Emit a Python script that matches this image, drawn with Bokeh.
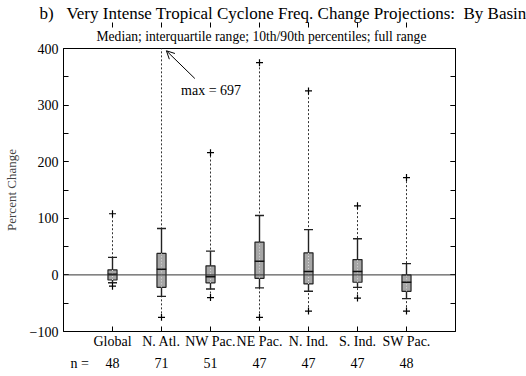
from bokeh.plotting import figure
from bokeh.models import (ColumnDataSource, FixedTicker, LinearAxis, Span, Label,
                          Arrow, OpenHead, Range1d, CustomJSTickFormatter, Title)
from bokeh.embed import file_html
from bokeh.resources import INLINE

# ---- data (percent change) ----
basins = ["Global", "N. Atl.", "NW Pac.", "NE Pac.", "N. Ind.", "S. Ind.", "SW Pac."]
n_models = [48, 71, 51, 47, 47, 47, 48]
vmin = [-20, -75, -40, -75, -64, -41, -64]
p10 = [-14, -38, -25, -23, -29, -22, -42]
q25 = [-9, -22, -14, -6, -16, -13, -29]
median = [1, 10, -3, 24, 6, 6, -13]
q75 = [9, 38, 16, 58, 39, 27, 0]
p90 = [31, 82, 42, 105, 80, 64, 20]
vmax = [108, 697, 216, 375, 325, 122, 172]

y_ticks_major = [-100, 0, 100, 200, 300, 400]
SERIF = "Liberation Serif"

pos = list(range(1, len(basins) + 1))
src = ColumnDataSource(dict(x=pos, vmin=vmin, p10=p10, q25=q25, med=median,
                            q75=q75, p90=p90, vmax=vmax))

p = figure(width=526, height=376, output_backend="svg", toolbar_location=None,
           x_range=Range1d(0, 8), y_range=Range1d(-100, 400),
           min_border_left=54, min_border_right=71, min_border_top=48,
           min_border_bottom=45, x_axis_type=None, y_axis_type=None)
p.xgrid.visible = False
p.ygrid.visible = False
p.outline_line_color = "black"
p.outline_line_width = 1
p.background_fill_color = "white"
p.border_fill_color = "white"

# titles
p.title.text = "b)\u00a0\u00a0\u00a0Very Intense Tropical Cyclone Freq. Change Projections:\u00a0\u00a0By Basin"
p.title.text_font = SERIF
p.title.text_font_size = "17px"
p.title.text_font_style = "normal"
p.title.text_color = "black"
p.title.align = "left"
p.title.offset = -24
p.title.standoff = 0
sub = Title(text="Median; interquartile range; 10th/90th percentiles; full range",
            text_font=SERIF, text_font_size="13.6px", text_font_style="normal",
            text_color="black", align="left", offset=33, standoff=9)
p.add_layout(sub, "above")

# zero line
p.add_layout(Span(location=0, dimension="width", line_color="#333333", line_width=1))

# dashed full range
p.segment(x0="x", y0="vmin", x1="x", y1="vmax", source=src, line_color="#333333",
          line_width=1, line_dash="2 2")
# whiskers (10th/90th)
p.segment(x0="x", y0="p10", x1="x", y1="q25", source=src, line_color="#222222", line_width=1.4)
p.segment(x0="x", y0="q75", x1="x", y1="p90", source=src, line_color="#222222", line_width=1.4)
p.scatter(x="x", y="p10", source=src, marker="dash", size=9, line_color="#222222", line_width=1.4)
p.scatter(x="x", y="p90", source=src, marker="dash", size=9, line_color="#222222", line_width=1.4)
# boxes
p.vbar(x="x", bottom="q25", top="q75", width=0.185, source=src, fill_color="#a6a6a6",
       line_color="#222222", line_width=1.2)
p.segment(x0="x", y0="q25", x1="x", y1="q75", source=src, line_color="#dddddd",
          line_width=1, line_dash="1 2")
# medians
p.scatter(x="x", y="med", source=src, marker="dash", size=9.5, line_color="#111111", line_width=1.6)
# extremes
p.scatter(x="x", y="vmin", source=src, marker="cross", size=7, line_color="black", line_width=1.2)
p.scatter(x="x", y="vmax", source=src, marker="cross", size=7, line_color="black", line_width=1.2)

# annotation for off-scale maximum
p.add_layout(Arrow(end=OpenHead(size=8, line_width=1, line_color="black"),
                   x_start=2.68, y_start=347, x_end=2.1, y_end=396,
                   line_color="black", line_width=1))
p.add_layout(Label(x=2.4, y=326, text="max = " + str(vmax[1]), text_font=SERIF,
                   text_font_size="14px", text_baseline="middle", text_color="black"))

blank = CustomJSTickFormatter(code="return ''")

def style_axis(ax, labels=True):
    ax.axis_line_color = None
    ax.major_tick_in = 5
    ax.major_tick_out = 0
    ax.minor_tick_in = 5
    ax.minor_tick_out = 0
    ax.major_tick_line_color = "black"
    ax.minor_tick_line_color = "black"
    ax.major_label_text_font = SERIF
    ax.major_label_text_font_size = "14px"
    ax.major_label_text_color = "black"
    if not labels:
        ax.formatter = blank
        ax.major_label_standoff = 0

# left axis
yl = LinearAxis(ticker=FixedTicker(ticks=y_ticks_major, minor_ticks=list(range(-100, 401, 50))),
                axis_label="Percent Change")
style_axis(yl)
yl.major_label_standoff = 5
yl.axis_label_text_font = SERIF
yl.axis_label_text_font_style = "normal"
yl.axis_label_text_font_size = "13px"
yl.axis_label_standoff = 8
p.add_layout(yl, "left")

# right axis (ticks only)
yr = LinearAxis(ticker=FixedTicker(ticks=y_ticks_major, minor_ticks=list(range(-100, 401, 50))))
style_axis(yr, labels=False)
p.add_layout(yr, "right")

# bottom axis: basin names
xb = LinearAxis(ticker=FixedTicker(ticks=pos),
                major_label_overrides={i: b for i, b in zip(pos, basins)})
style_axis(xb)
xb.minor_tick_in = 0
xb.major_label_standoff = 2
p.add_layout(xb, "below")

# second bottom row: sample sizes
n_lab_x = 0.33
xn = LinearAxis(ticker=FixedTicker(ticks=[n_lab_x] + pos),
                major_label_overrides={**{n_lab_x: "n ="},
                                       **{i: str(n) for i, n in zip(pos, n_models)}})
style_axis(xn)
xn.major_tick_in = 0
xn.minor_tick_in = 0
xn.major_tick_line_color = None
xn.minor_tick_line_color = None
xn.major_label_standoff = 4
p.add_layout(xn, "below")

# top axis (ticks only)
xt = LinearAxis(ticker=FixedTicker(ticks=pos))
style_axis(xt, labels=False)
xt.minor_tick_in = 0
p.add_layout(xt, "above")

open("out.html", "w").write(file_html(p, INLINE))
